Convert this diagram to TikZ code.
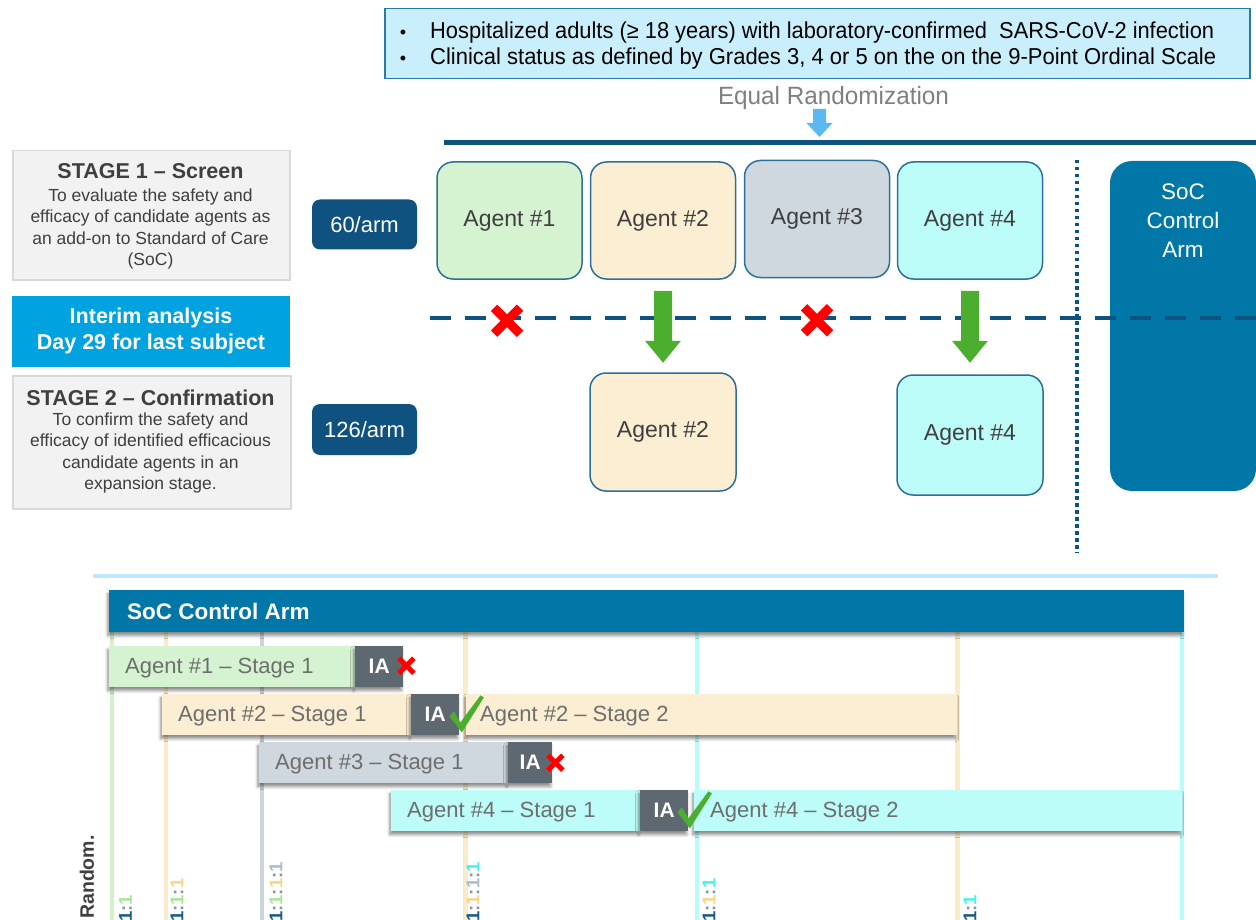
\documentclass[tikz,border=0pt]{standalone}
\usepackage{fontspec}
\setmainfont{Liberation Sans}
\usepackage{graphicx}
\usetikzlibrary{calc,shadows.blur}

\definecolor{navy}{HTML}{10527F}
\definecolor{socblue}{HTML}{0077A7}
\definecolor{iablue}{HTML}{00A2DF}
\definecolor{eligfill}{HTML}{C9EFFD}
\definecolor{eligline}{HTML}{2C7AA6}
\definecolor{arrowblue}{HTML}{5CB8F2}
\definecolor{sepblue}{HTML}{BEE6FC}
\definecolor{agentline}{HTML}{2D6F98}
\definecolor{agA}{HTML}{D5F3D1}
\definecolor{agB}{HTML}{FBEED2}
\definecolor{agC}{HTML}{CFD8DF}
\definecolor{agD}{HTML}{BCFCF9}
\definecolor{laneA}{HTML}{D2F1CC}
\definecolor{laneB}{HTML}{FAEBC9}
\definecolor{laneC}{HTML}{CBD5DD}
\definecolor{laneD}{HTML}{B8FCF8}
\definecolor{stagefill}{HTML}{F2F2F2}
\definecolor{stageline}{HTML}{D9D9D9}
\definecolor{darktext}{HTML}{3F3F3F}
\definecolor{graytext}{HTML}{7F7F7F}
\definecolor{bartextc}{HTML}{6E6E6E}
\definecolor{iagray}{HTML}{5E6870}
\definecolor{xred}{HTML}{FF0000}
\definecolor{okgreen}{HTML}{4BAE2E}
\definecolor{rNavy}{HTML}{1A5C82}
\definecolor{rColon}{HTML}{8794A1}
\definecolor{rA}{HTML}{A6E697}
\definecolor{rB}{HTML}{F8D488}
\definecolor{rC}{HTML}{A9BDCB}
\definecolor{rD}{HTML}{44F2EE}

\tikzset{
  agentbox/.style={draw=agentline, line width=1.5pt, rounded corners=16pt,
    minimum width=145pt, minimum height=117pt, inner sep=0, text=darktext,
    font=\fontsize{23}{26}\selectfont},
  armbox/.style={fill=navy, rounded corners=8pt, minimum width=105pt,
    minimum height=50pt, inner sep=0, text=white, font=\fontsize{22}{26}\selectfont},
  stagebox/.style={fill=stagefill, draw=stageline, line width=1.5pt,
    anchor=north west, inner sep=0},
  stagetitle/.style={anchor=base, inner sep=0, text=darktext,
    font=\bfseries\fontsize{21.5}{24}\selectfont},
  stagebody/.style={align=center, inner sep=0, text=darktext,
    font=\fontsize{17.5}{21.5}\selectfont},
  softshadow/.style={blur shadow={shadow xshift=-1.5pt, shadow yshift=-3.5pt,
    shadow blur radius=3pt, shadow blur steps=6, shadow opacity=45}},
  barbox/.style={anchor=north west, minimum height=41pt, inner sep=0, softshadow},
  bartext/.style={anchor=west, inner sep=0, text=bartextc,
    font=\fontsize{22}{24}\selectfont},
  iabox/.style={fill=iagray, minimum width=48pt, minimum height=41pt, inner sep=0,
    anchor=north west, text=white, font=\bfseries\fontsize{21}{24}\selectfont, softshadow},
  lane/.style={line width=4.5pt},
  ratio/.style={rotate=90, anchor=west, inner sep=0,
    font=\bfseries\fontsize{18.5}{20}\selectfont},
  bigx/.pic={\draw[xred, line width=9pt] (-13,-13) -- (13,13) (-13,13) -- (13,-13);},
  smallx/.pic={\draw[xred, line width=5pt] (-7.5,-7.5) -- (7.5,7.5) (-7.5,7.5) -- (7.5,-7.5);},
  okcheck/.pic={\fill[okgreen] (-11,-16) -- (-6.5,-21) -- (0,-10) -- (20,-37) -- (23.5,-35) -- (1.5,0) -- cycle;},
  advance/.pic={\fill[okgreen] (-9,0) -- (9,0) -- (9,50) -- (18,50) -- (0,72) -- (-18,50) -- (-9,50) -- cycle;},
  randarrow/.pic={\fill[arrowblue] (-6.5,-28) -- (6.5,-28) -- (6.5,-14) -- (13,-14) -- (0,0) -- (-13,-14) -- (-6.5,-14) -- cycle;}
}

\begin{document}
\begin{tikzpicture}[x=1pt, y=-1pt]
\useasboundingbox (0,0) rectangle (1256,920);

% ---------- eligibility ----------
\node[draw=eligline, fill=eligfill, line width=1.5pt, minimum width=865pt,
  minimum height=70pt, anchor=north west, inner sep=0] (elig) at (384,8) {};
\node[anchor=base, inner sep=0, font=\fontsize{18}{20}\selectfont] (b1) at (403,39) {•};
\node[anchor=base west, inner sep=0] (e1) at (430,39)
  {\resizebox{784pt}{\height}{\fontsize{23}{26}\selectfont Hospitalized adults (≥ 18 years) with laboratory-confirmed\ \ SARS-CoV-2 infection}};
\node[anchor=base, inner sep=0, font=\fontsize{18}{20}\selectfont] (b2) at (403,65) {•};
\node[anchor=base west, inner sep=0] (e2) at (430,65)
  {\resizebox{786pt}{\height}{\fontsize{23}{26}\selectfont Clinical status as defined by Grades 3, 4 or 5 on the on the 9-Point Ordinal Scale}};

\node[anchor=base, inner sep=0, text=graytext] (eq) at (833.5,105)
  {\resizebox{231pt}{\height}{\fontsize{25}{28}\selectfont Equal Randomization}};
\coordinate (randtip) at (819.5,137);
\pic at (randtip) {randarrow};

\coordinate (armsL) at (444,143);
\coordinate (armsR) at (1256,143);
\draw[navy, line width=5pt] (armsL) -- (armsR);

% ---------- stage descriptions ----------
\node[stagebox, minimum width=277pt, minimum height=129pt] (s1) at (12,150) {};
\node[stagetitle] (s1t) at (150.5,179) {STAGE 1 – Screen};
\node[stagebody] (s1b) at (150.5,229) {To evaluate the safety and\\efficacy of candidate agents as\\an add-on to Standard of Care\\(SoC)};

\node[fill=iablue, minimum width=278pt, minimum height=71pt, anchor=north west, inner sep=0] (ia) at (12,296) {};
\node[align=center, inner sep=0, text=white, font=\bfseries\fontsize{21.5}{26}\selectfont] (iat) at (151,331)
  {Interim analysis\\Day 29 for last subject};

\node[stagebox, minimum width=278pt, minimum height=133pt] (s2) at (12,375) {};
\node[stagetitle] (s2t) at (150.5,405) {STAGE 2 – Confirmation};
\node[stagebody] (s2b) at (150.5,453) {To confirm the safety and\\efficacy of identified efficacious\\candidate agents in an\\expansion stage.};

\node[armbox] (n60) at (364.5,224.5) {60/arm};
\node[armbox, minimum height=51pt] (n126) at (364.5,429.5) {126/arm};

% ---------- arms ----------
\node[agentbox, fill=agA] (a1) at (509.5,220.5) {Agent \#1};
\node[agentbox, fill=agB] (a2) at (663,220.5) {Agent \#2};
\node[agentbox, fill=agC] (a3) at (817,219) {Agent \#3};
\node[agentbox, fill=agD] (a4) at (970,220.5) {Agent \#4};

\node[agentbox, fill=agB, minimum width=146pt, minimum height=118pt] (b2s) at (663,432) {Agent \#2};
\node[agentbox, fill=agD, minimum width=146pt, minimum height=120pt] (b4s) at (970,435) {Agent \#4};

\node[fill=socblue, rounded corners=22pt, minimum width=146pt, minimum height=330pt, inner sep=0] (soc) at (1183,326) {};
\node[align=center, inner sep=0, text=white, font=\fontsize{22.5}{29}\selectfont] (soct) at (1183,221) {SoC\\Control\\Arm};

% interim analysis cut
\coordinate (cutL) at (430,318);
\coordinate (cutR) at (1256,318);
\draw[navy, line width=4.5pt, dash pattern=on 21pt off 14pt] (cutL) -- (cutR);

% concurrent-control boundary
\coordinate (ccTop) at (1077,160);
\coordinate (ccBot) at (1077,553);
\draw[navy, line width=4pt, dash pattern=on 3.5pt off 3.5pt] (ccTop) -- (ccBot);

\pic at ($(a2.south)+(0,11)$) {advance};
\pic at ($(a4.south)+(0,11)$) {advance};
\pic at ($(a1.south)+(-2.5,41)$) {bigx};
\pic at ($(a3.south)+(0,42)$) {bigx};

% ---------- separator ----------
\coordinate (sepL) at (93,576);
\coordinate (sepR) at (1218,576);
\draw[sepblue, line width=4pt] (sepL) -- (sepR);

% ---------- timeline ----------
\draw[lane, laneA] (112,632) -- (112,920);
\draw[lane, laneB] (166,632) -- (166,920);
\draw[lane, laneC] (262,632) -- (262,920);
\draw[lane, laneB] (465.5,632) -- (465.5,920);
\draw[lane, laneD] (697,632) -- (697,920);
\draw[lane, laneB] (957.5,632) -- (957.5,920);
\draw[lane, laneD] (1182,632) -- (1182,920);

\node[fill=socblue, anchor=north west, minimum width=1075pt, minimum height=42pt, inner sep=0, softshadow] (hdr) at (109,590) {};
\node[anchor=west, inner sep=0, text=white, font=\bfseries\fontsize{22.5}{26}\selectfont] (hdrt) at (127,611) {SoC Control Arm};

% agent 1
\node[barbox, fill=agA, minimum width=246pt] (r1a) at (109,646) {};
\node[bartext] at ($(r1a.west)+(16,1)$) {Agent \#1 – Stage 1};
\node[iabox] (r1ia) at (355,646) {IA};
\pic at ($(r1ia.east)+(3,-1)$) {smallx};

% agent 2
\node[barbox, fill=agB, minimum width=491pt] (r2b) at (466,694) {};
\node[bartext] at ($(r2b.west)+(14,1)$) {Agent \#2 – Stage 2};
\node[barbox, fill=agB, minimum width=249pt] (r2a) at (162,694) {};
\node[bartext] at ($(r2a.west)+(16,1)$) {Agent \#2 – Stage 1};
\node[iabox] (r2ia) at (411,694) {IA};
\pic at ($(r2ia.south east)+(1,-3)$) {okcheck};

% agent 3
\node[barbox, fill=agC, minimum width=249pt] (r3a) at (259,742) {};
\node[bartext] at ($(r3a.west)+(16,1)$) {Agent \#3 – Stage 1};
\node[iabox, minimum width=44pt] (r3ia) at (508,742) {IA};
\pic at ($(r3ia.east)+(3,0)$) {smallx};

% agent 4
\node[barbox, fill=agD, minimum width=488pt] (r4b) at (694,790) {};
\node[bartext] at ($(r4b.west)+(16,1)$) {Agent \#4 – Stage 2};
\node[barbox, fill=agD, minimum width=249pt] (r4a) at (391,790) {};
\node[bartext] at ($(r4a.west)+(16,1)$) {Agent \#4 – Stage 1};
\node[iabox] (r4ia) at (640,790) {IA};
\pic at ($(r4ia.south east)+(0,-3)$) {okcheck};

% randomization ratios
\node[ratio, text=darktext, font=\bfseries\fontsize{19.5}{21}\selectfont] (rand) at (87,919) {Random.};
\node[ratio] at (125.5,922) {\textcolor{rNavy}{1}\textcolor{rColon}{:}\textcolor{rA}{1}};
\node[ratio] at (177,922) {\textcolor{rNavy}{1}\textcolor{rColon}{:}\textcolor{rA}{1}\textcolor{rColon}{:}\textcolor{rB}{1}};
\node[ratio] at (276,922) {\textcolor{rNavy}{1}\textcolor{rColon}{:}\textcolor{rA}{1}\textcolor{rColon}{:}\textcolor{rB}{1}\textcolor{rColon}{:}\textcolor{rC}{1}};
\node[ratio] at (473,922) {\textcolor{rNavy}{1}\textcolor{rColon}{:}\textcolor{rB}{1}\textcolor{rColon}{:}\textcolor{rC}{1}\textcolor{rColon}{:}\textcolor{rD}{1}};
\node[ratio] at (709,922) {\textcolor{rNavy}{1}\textcolor{rColon}{:}\textcolor{rB}{1}\textcolor{rColon}{:}\textcolor{rD}{1}};
\node[ratio] at (970,922) {\textcolor{rNavy}{1}\textcolor{rColon}{:}\textcolor{rD}{1}};
\end{tikzpicture}
\end{document}
